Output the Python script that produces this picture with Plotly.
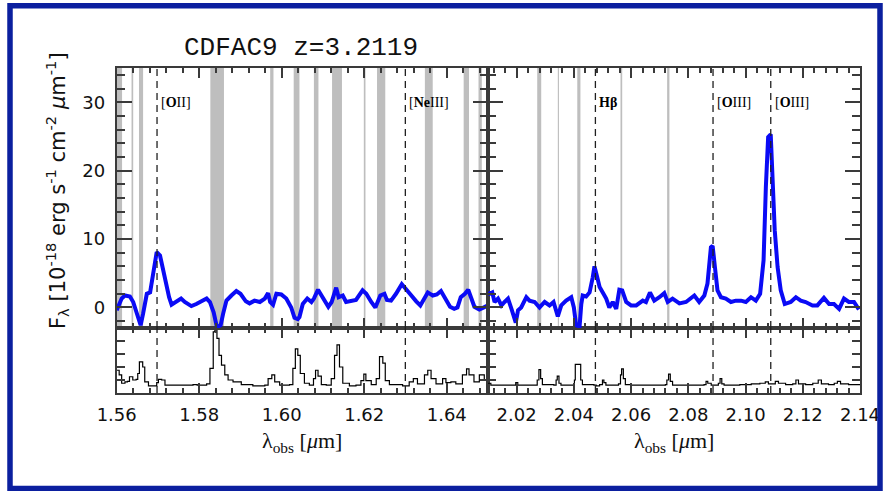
import plotly.graph_objects as go

# ---------------------------------------------------------------------------
# Source and redshift
# ---------------------------------------------------------------------------
TITLE = "CDFAC9 z=3.2119"
Z = 3.2119

# Emission lines: rest wavelength (Angstrom) and label
line_rest_A = [3727.0, 3869.9, 4861.3, 4958.9, 5006.8]
line_labels = ["[<b>O</b>II]", "[<b>Ne</b>III]", "<b>Hβ</b>", "[<b>O</b>III]", "[<b>O</b>III]"]

# ---------------------------------------------------------------------------
# Object spectrum, H-band window (wavelength in micron, flux in 1e-18 cgs)
# ---------------------------------------------------------------------------
wl_h = [1.5600, 1.5612, 1.5620, 1.5632, 1.5640, 1.5648, 1.5658, 1.5664, 1.5673, 1.5681,
        1.5689, 1.5697, 1.5705, 1.5711, 1.5719, 1.5727, 1.5733, 1.5745, 1.5756, 1.5765,
        1.5781, 1.5793, 1.5806, 1.5818, 1.5826, 1.5835, 1.5843, 1.5852, 1.5858, 1.5866,
        1.5878, 1.5890, 1.5900, 1.5913, 1.5922, 1.5934, 1.5947, 1.5959, 1.5967, 1.5972,
        1.5979, 1.5987, 1.5999, 1.6011, 1.6023, 1.6031, 1.6039, 1.6043, 1.6051, 1.6062,
        1.6072, 1.6078, 1.6088, 1.6096, 1.6104, 1.6113, 1.6121, 1.6132, 1.6138, 1.6148,
        1.6156, 1.6168, 1.6180, 1.6196, 1.6205, 1.6217, 1.6227, 1.6239, 1.6249, 1.6255,
        1.6265, 1.6277, 1.6291, 1.6301, 1.6313, 1.6326, 1.6336, 1.6346, 1.6354, 1.6366,
        1.6376, 1.6386, 1.6398, 1.6408, 1.6418, 1.6426, 1.6434, 1.6444, 1.6452, 1.6459,
        1.6467, 1.6479, 1.6491, 1.6500]
flux_h = [-0.4, 1.3, 1.75, 1.6, 0.8, -0.7, -2.6, -0.9, 2.0, 2.2,
          5.4, 8.1, 7.6, 5.9, 3.9, 1.5, 0.4, 0.8, 1.3, 0.8,
          0.2, 0.5, 0.9, 1.3, 0.8, -0.7, -2.9, -2.6, -0.9, 1.0,
          1.75, 2.4, 2.0, 0.9, 0.6, 1.0, 0.8, 1.3, 2.1, 0.8,
          0.4, 2.0, 1.9, 1.3, 0.0, -1.5, -1.7, -1.4, 0.5, 1.3,
          0.8, 1.3, 2.6, 1.75, 0.8, 0.1, 0.8, 2.9, 1.5, 1.75,
          0.8, 1.0, 1.1, 2.5, 2.0, 0.8, 0.0, 1.75, 2.0, 1.1,
          1.0, 2.0, 3.4, 2.7, 1.75, 0.9, 0.3, 1.5, 2.2, 1.75,
          1.9, 2.4, 1.0, 0.1, -0.2, 0.0, 1.5, 2.0, 2.6, 1.3,
          0.1, -0.3, 0.1, 0.3]

# Object spectrum, K-band window
wl_k = [2.0100, 2.0106, 2.0115, 2.0123, 2.0135, 2.0147, 2.0158, 2.0170, 2.0182, 2.0197,
        2.0205, 2.0216, 2.0234, 2.0245, 2.0263, 2.0280, 2.0298, 2.0315, 2.0329, 2.0344,
        2.0356, 2.0373, 2.0391, 2.0400, 2.0408, 2.0420, 2.0426, 2.0431, 2.0443, 2.0455,
        2.0466, 2.0472, 2.0480, 2.0490, 2.0501, 2.0513, 2.0524, 2.0536, 2.0548, 2.0559,
        2.0569, 2.0583, 2.0600, 2.0618, 2.0641, 2.0652, 2.0666, 2.0681, 2.0699, 2.0716,
        2.0728, 2.0745, 2.0769, 2.0792, 2.0821, 2.0838, 2.0856, 2.0867, 2.0879, 2.0885,
        2.0893, 2.0902, 2.0914, 2.0931, 2.0949, 2.0966, 2.0984, 2.1001, 2.1019, 2.1036,
        2.1051, 2.1063, 2.1071, 2.1079, 2.1088, 2.1094, 2.1102, 2.1112, 2.1123, 2.1137,
        2.1158, 2.1176, 2.1193, 2.1210, 2.1234, 2.1251, 2.1274, 2.1292, 2.1309, 2.1327,
        2.1344, 2.1361, 2.1379, 2.1396]
flux_k = [2.2, 2.0, 2.2, 0.8, 1.3, 0.3, 0.8, 1.3, -0.2, -2.2,
          -0.4, 0.0, 1.5, 1.0, 0.8, 0.0, 0.8, 0.3, 0.8, -1.3,
          0.3, 1.0, 1.5, 0.0, -2.6, -2.8, 0.5, 1.75, 1.6, 2.2,
          4.4, 6.0, 4.7, 3.0, 2.2, 1.3, 0.0, 0.8, -0.2, 2.6,
          2.5, 0.8, 0.3, 0.3, 1.0, 0.8, 2.2, 1.0, 1.5, 2.1,
          0.8, 1.3, 0.6, 0.8, 1.75, 0.8, 1.75, 3.5, 8.8, 9.0,
          5.9, 2.5, 1.5, 1.3, 0.8, 1.0, 1.0, 0.8, 1.5, 1.0,
          2.0, 6.9, 17.6, 24.9, 25.3, 18.1, 11.3, 5.9, 2.5, 0.5,
          0.8, 1.5, 1.0, 0.8, 0.3, 0.3, 1.4, 0.5, 0.5, -0.2,
          1.3, 0.8, 0.8, -0.3]

# ---------------------------------------------------------------------------
# Sky (OH) spectrum, arbitrary units
# ---------------------------------------------------------------------------
sky_wl_h = [1.5600, 1.5606, 1.5612, 1.5620, 1.5626, 1.5631, 1.5639, 1.5647, 1.5651, 1.5655,
            1.5663, 1.5668, 1.5677, 1.5685, 1.5697, 1.5701, 1.5709, 1.5717, 1.5745, 1.5781,
            1.5785, 1.5795, 1.5818, 1.5826, 1.5834, 1.5838, 1.5843, 1.5848, 1.5854, 1.5862,
            1.5870, 1.5882, 1.5902, 1.5930, 1.5959, 1.5967, 1.5976, 1.5983, 1.5995, 1.6019,
            1.6027, 1.6033, 1.6039, 1.6045, 1.6055, 1.6067, 1.6077, 1.6082, 1.6088, 1.6096,
            1.6108, 1.6120, 1.6128, 1.6134, 1.6140, 1.6148, 1.6164, 1.6180, 1.6192, 1.6199,
            1.6204, 1.6217, 1.6229, 1.6237, 1.6245, 1.6251, 1.6261, 1.6293, 1.6309, 1.6319,
            1.6329, 1.6346, 1.6354, 1.6362, 1.6374, 1.6390, 1.6398, 1.6410, 1.6422, 1.6438,
            1.6448, 1.6454, 1.6466, 1.6479, 1.6491, 1.6500]
sky_h = [0.35, 0.28, 0.15, 0.17, 0.18, 0.25, 0.20, 0.21, 0.30, 0.48,
         0.40, 0.17, 0.11, 0.11, 0.16, 0.21, 0.20, 0.12, 0.12, 0.12,
         0.13, 0.12, 0.14, 0.38, 0.94, 1.05, 0.84, 0.58, 0.43, 0.28,
         0.20, 0.17, 0.13, 0.11, 0.12, 0.22, 0.28, 0.17, 0.12, 0.13,
         0.38, 0.68, 0.58, 0.30, 0.15, 0.12, 0.22, 0.35, 0.26, 0.13,
         0.12, 0.22, 0.58, 0.74, 0.40, 0.15, 0.11, 0.12, 0.19, 0.29,
         0.19, 0.13, 0.22, 0.56, 0.46, 0.19, 0.13, 0.11, 0.17, 0.22,
         0.14, 0.28, 0.35, 0.22, 0.14, 0.22, 0.16, 0.17, 0.14, 0.28,
         0.37, 0.28, 0.17, 0.28, 0.20, 0.20]

sky_wl_k = [2.0100, 2.0110, 2.0190, 2.0197, 2.0204, 2.0265, 2.0272, 2.0278, 2.0284, 2.0290,
            2.0330, 2.0338, 2.0342, 2.0348, 2.0355, 2.0395, 2.0402, 2.0405, 2.0420, 2.0424,
            2.0430, 2.0470, 2.0478, 2.0490, 2.0500, 2.0505, 2.0512, 2.0556, 2.0563, 2.0567,
            2.0573, 2.0580, 2.0600, 2.0720, 2.0725, 2.0731, 2.0737, 2.0745, 2.0855, 2.0862,
            2.0868, 2.0880, 2.0905, 2.0911, 2.0917, 2.0925, 2.0980, 2.1020, 2.1050, 2.1069,
            2.1080, 2.1104, 2.1115, 2.1140, 2.1165, 2.1176, 2.1185, 2.1210, 2.1235, 2.1254,
            2.1265, 2.1290, 2.1310, 2.1321, 2.1332, 2.1360, 2.1400]
sky_k = [0.15, 0.12, 0.12, 0.16, 0.12, 0.12, 0.20, 0.36, 0.22, 0.13,
         0.12, 0.20, 0.26, 0.15, 0.12, 0.12, 0.20, 0.44, 0.44, 0.20,
         0.13, 0.12, 0.11, 0.13, 0.20, 0.16, 0.12, 0.14, 0.28, 0.37,
         0.22, 0.13, 0.12, 0.13, 0.20, 0.29, 0.18, 0.12, 0.13, 0.18,
         0.15, 0.12, 0.15, 0.22, 0.14, 0.12, 0.13, 0.14, 0.15, 0.17,
         0.14, 0.18, 0.15, 0.13, 0.14, 0.20, 0.14, 0.13, 0.15, 0.20,
         0.14, 0.13, 0.15, 0.18, 0.14, 0.13, 0.13]

# Wavelength windows affected by bright sky lines (start, end)
mask_h_lo = [1.5594, 1.5636, 1.5654, 1.5827, 1.5972, 1.6029, 1.6078, 1.6122, 1.6199, 1.6231, 1.6347, 1.6441, 1.6477]
mask_h_hi = [1.5613, 1.5640, 1.5664, 1.5860, 1.5980, 1.6043, 1.6089, 1.6146, 1.6203, 1.6251, 1.6366, 1.6454, 1.6485]
mask_k_lo = [2.0272, 2.0344, 2.0412, 2.0563, 2.0726]
mask_k_hi = [2.0286, 2.0348, 2.0423, 2.0569, 2.0734]

# Axis limits and ticks
xlim_h = [1.56, 1.65]
xlim_k = [2.01, 2.14]
ylim_flux = [-3, 35]
ylim_sky = [0, 1]

# ---------------------------------------------------------------------------
# Layout geometry (figure is 883 x 491 px, no margins)
# ---------------------------------------------------------------------------
W, H = 883, 491
def px(x):
    return x / W
def py(y):
    return 1 - y / H

X_L, X_M, X_R = 116.7, 488.0, 860.0
Y_TOP, Y_MID, Y_BOT = 68.0, 328.0, 393.0

AX = "#3a3a3a"
BLUE = "#0a0af5"
GREY = "#bebebe"
TICKFONT = dict(family="DejaVu Sans", size=18, color="#111111")
SERIF = "Liberation Serif"

fig = go.Figure()

# sky spectra in the lower strips
fig.add_trace(go.Scatter(x=sky_wl_h, y=sky_h, mode="lines", line=dict(color="black", width=1.2, shape="hv"),
                         xaxis="x", yaxis="y", showlegend=False, hoverinfo="skip"))
fig.add_trace(go.Scatter(x=sky_wl_k, y=sky_k, mode="lines", line=dict(color="black", width=1.2, shape="hv"),
                         xaxis="x2", yaxis="y2", showlegend=False, hoverinfo="skip"))
# object spectra in the upper panels
fig.add_trace(go.Scatter(x=wl_h, y=flux_h, mode="lines", line=dict(color=BLUE, width=4),
                         xaxis="x3", yaxis="y3", showlegend=False))
fig.add_trace(go.Scatter(x=wl_k, y=flux_k, mode="lines", line=dict(color=BLUE, width=4),
                         xaxis="x4", yaxis="y4", showlegend=False))

shapes = []
# sky-line windows
for lo, hi in zip(mask_h_lo, mask_h_hi):
    shapes.append(dict(type="rect", xref="x3", yref="y3 domain", x0=lo, x1=hi, y0=0, y1=1,
                       fillcolor=GREY, line=dict(width=0), layer="below"))
for lo, hi in zip(mask_k_lo, mask_k_hi):
    shapes.append(dict(type="rect", xref="x4", yref="y4 domain", x0=lo, x1=hi, y0=0, y1=1,
                       fillcolor=GREY, line=dict(width=0), layer="below"))

annotations = []
# redshifted emission lines
for rest, lab in zip(line_rest_A, line_labels):
    obs = rest * 1e-4 * (1 + Z)
    if xlim_h[0] <= obs <= xlim_h[1]:
        xu, yu, xl, yl = "x3", "y3", "x", "y"
    else:
        xu, yu, xl, yl = "x4", "y4", "x2", "y2"
    for xr, yr in ((xu, yu), (xl, yl)):
        shapes.append(dict(type="line", xref=xr, yref=yr + " domain", x0=obs, x1=obs, y0=0, y1=1,
                           line=dict(color="#202020", width=1.3, dash="7px,5px"), layer="above"))
    annotations.append(dict(x=obs, y=30, xref=xu, yref=yu, text=lab, showarrow=False,
                            xanchor="left", yanchor="middle", xshift=2,
                            font=dict(family=SERIF, size=14, color="black")))

# outer frame
shapes.append(dict(type="rect", xref="paper", yref="paper", x0=px(10), x1=px(880), y0=py(488.5), y1=py(5.8),
                   line=dict(color="#0b1f9f", width=5.5), fillcolor="rgba(0,0,0,0)", layer="above"))

# title
annotations.append(dict(x=px(301), y=py(48), xref="paper", yref="paper", text=TITLE, showarrow=False,
                        xanchor="center", yanchor="middle",
                        font=dict(family="Liberation Mono", size=26, color="#111111")))
# axis titles
annotations.append(dict(x=px(57), y=py(191), xref="paper", yref="paper", textangle=-90, showarrow=False,
                        text="F<sub>λ</sub> [10<sup>-18</sup> erg s<sup>-1</sup> cm<sup>-2</sup> <i>μ</i>m<sup>-1</sup>]",
                        xanchor="center", yanchor="middle",
                        font=dict(family="DejaVu Sans", size=21, color="#111111")))
for xr in ("x", "x2"):
    annotations.append(dict(x=0.5, y=py(442), xref=xr + " domain", yref="paper", showarrow=False,
                            text="λ<sub>obs</sub> [<i>μ</i>m]", xanchor="center", yanchor="middle",
                            font=dict(family=SERIF, size=22, color="#111111")))

common = dict(ticks="inside", mirror="allticks", showline=True, linecolor=AX, linewidth=2,
              tickcolor=AX, tickwidth=1.5, showgrid=False, zeroline=False, fixedrange=True,
              automargin=False)

def xaxis(dom, rng, anchor, labels):
    return dict(common, domain=dom, range=rng, anchor=anchor, tick0=2.0 if rng[0] > 2 else 1.56,
                dtick=0.02, ticklen=10, tickformat=".2f", showticklabels=labels, tickfont=TICKFONT,
                ticklabelstandoff=4,
                minor=dict(dtick=0.004, ticklen=5, tickcolor=AX, tickwidth=1.5, ticks="inside"))

def yflux(dom, anchor, labels):
    return dict(common, domain=dom, range=ylim_flux, anchor=anchor, tick0=0, dtick=10, ticklen=15,
                showticklabels=labels, tickfont=TICKFONT, ticklabelstandoff=6,
                minor=dict(dtick=2, ticklen=8, tickcolor=AX, tickwidth=1.5, ticks="inside"))

def ysky(dom, anchor):
    return dict(common, domain=dom, range=ylim_sky, anchor=anchor, tick0=0, dtick=0.2, ticklen=8,
                showticklabels=False)

dom_l = [px(X_L), px(X_M)]
dom_r = [px(X_M), px(X_R)]
dom_sky = [py(Y_BOT), py(Y_MID)]
dom_flux = [py(Y_MID), py(Y_TOP)]

fig.update_layout(
    width=W, height=H,
    margin=dict(l=0, r=0, t=0, b=0, pad=0, autoexpand=False),
    paper_bgcolor="white", plot_bgcolor="white",
    showlegend=False,
    xaxis=xaxis(dom_l, xlim_h, "y", True),
    xaxis2=xaxis(dom_r, xlim_k, "y2", True),
    xaxis3=xaxis(dom_l, xlim_h, "y3", False),
    xaxis4=xaxis(dom_r, xlim_k, "y4", False),
    yaxis=ysky(dom_sky, "x"),
    yaxis2=ysky(dom_sky, "x2"),
    yaxis3=yflux(dom_flux, "x3", True),
    yaxis4=yflux(dom_flux, "x4", False),
    shapes=shapes,
    annotations=annotations,
)

fig.write_html("out.html")
